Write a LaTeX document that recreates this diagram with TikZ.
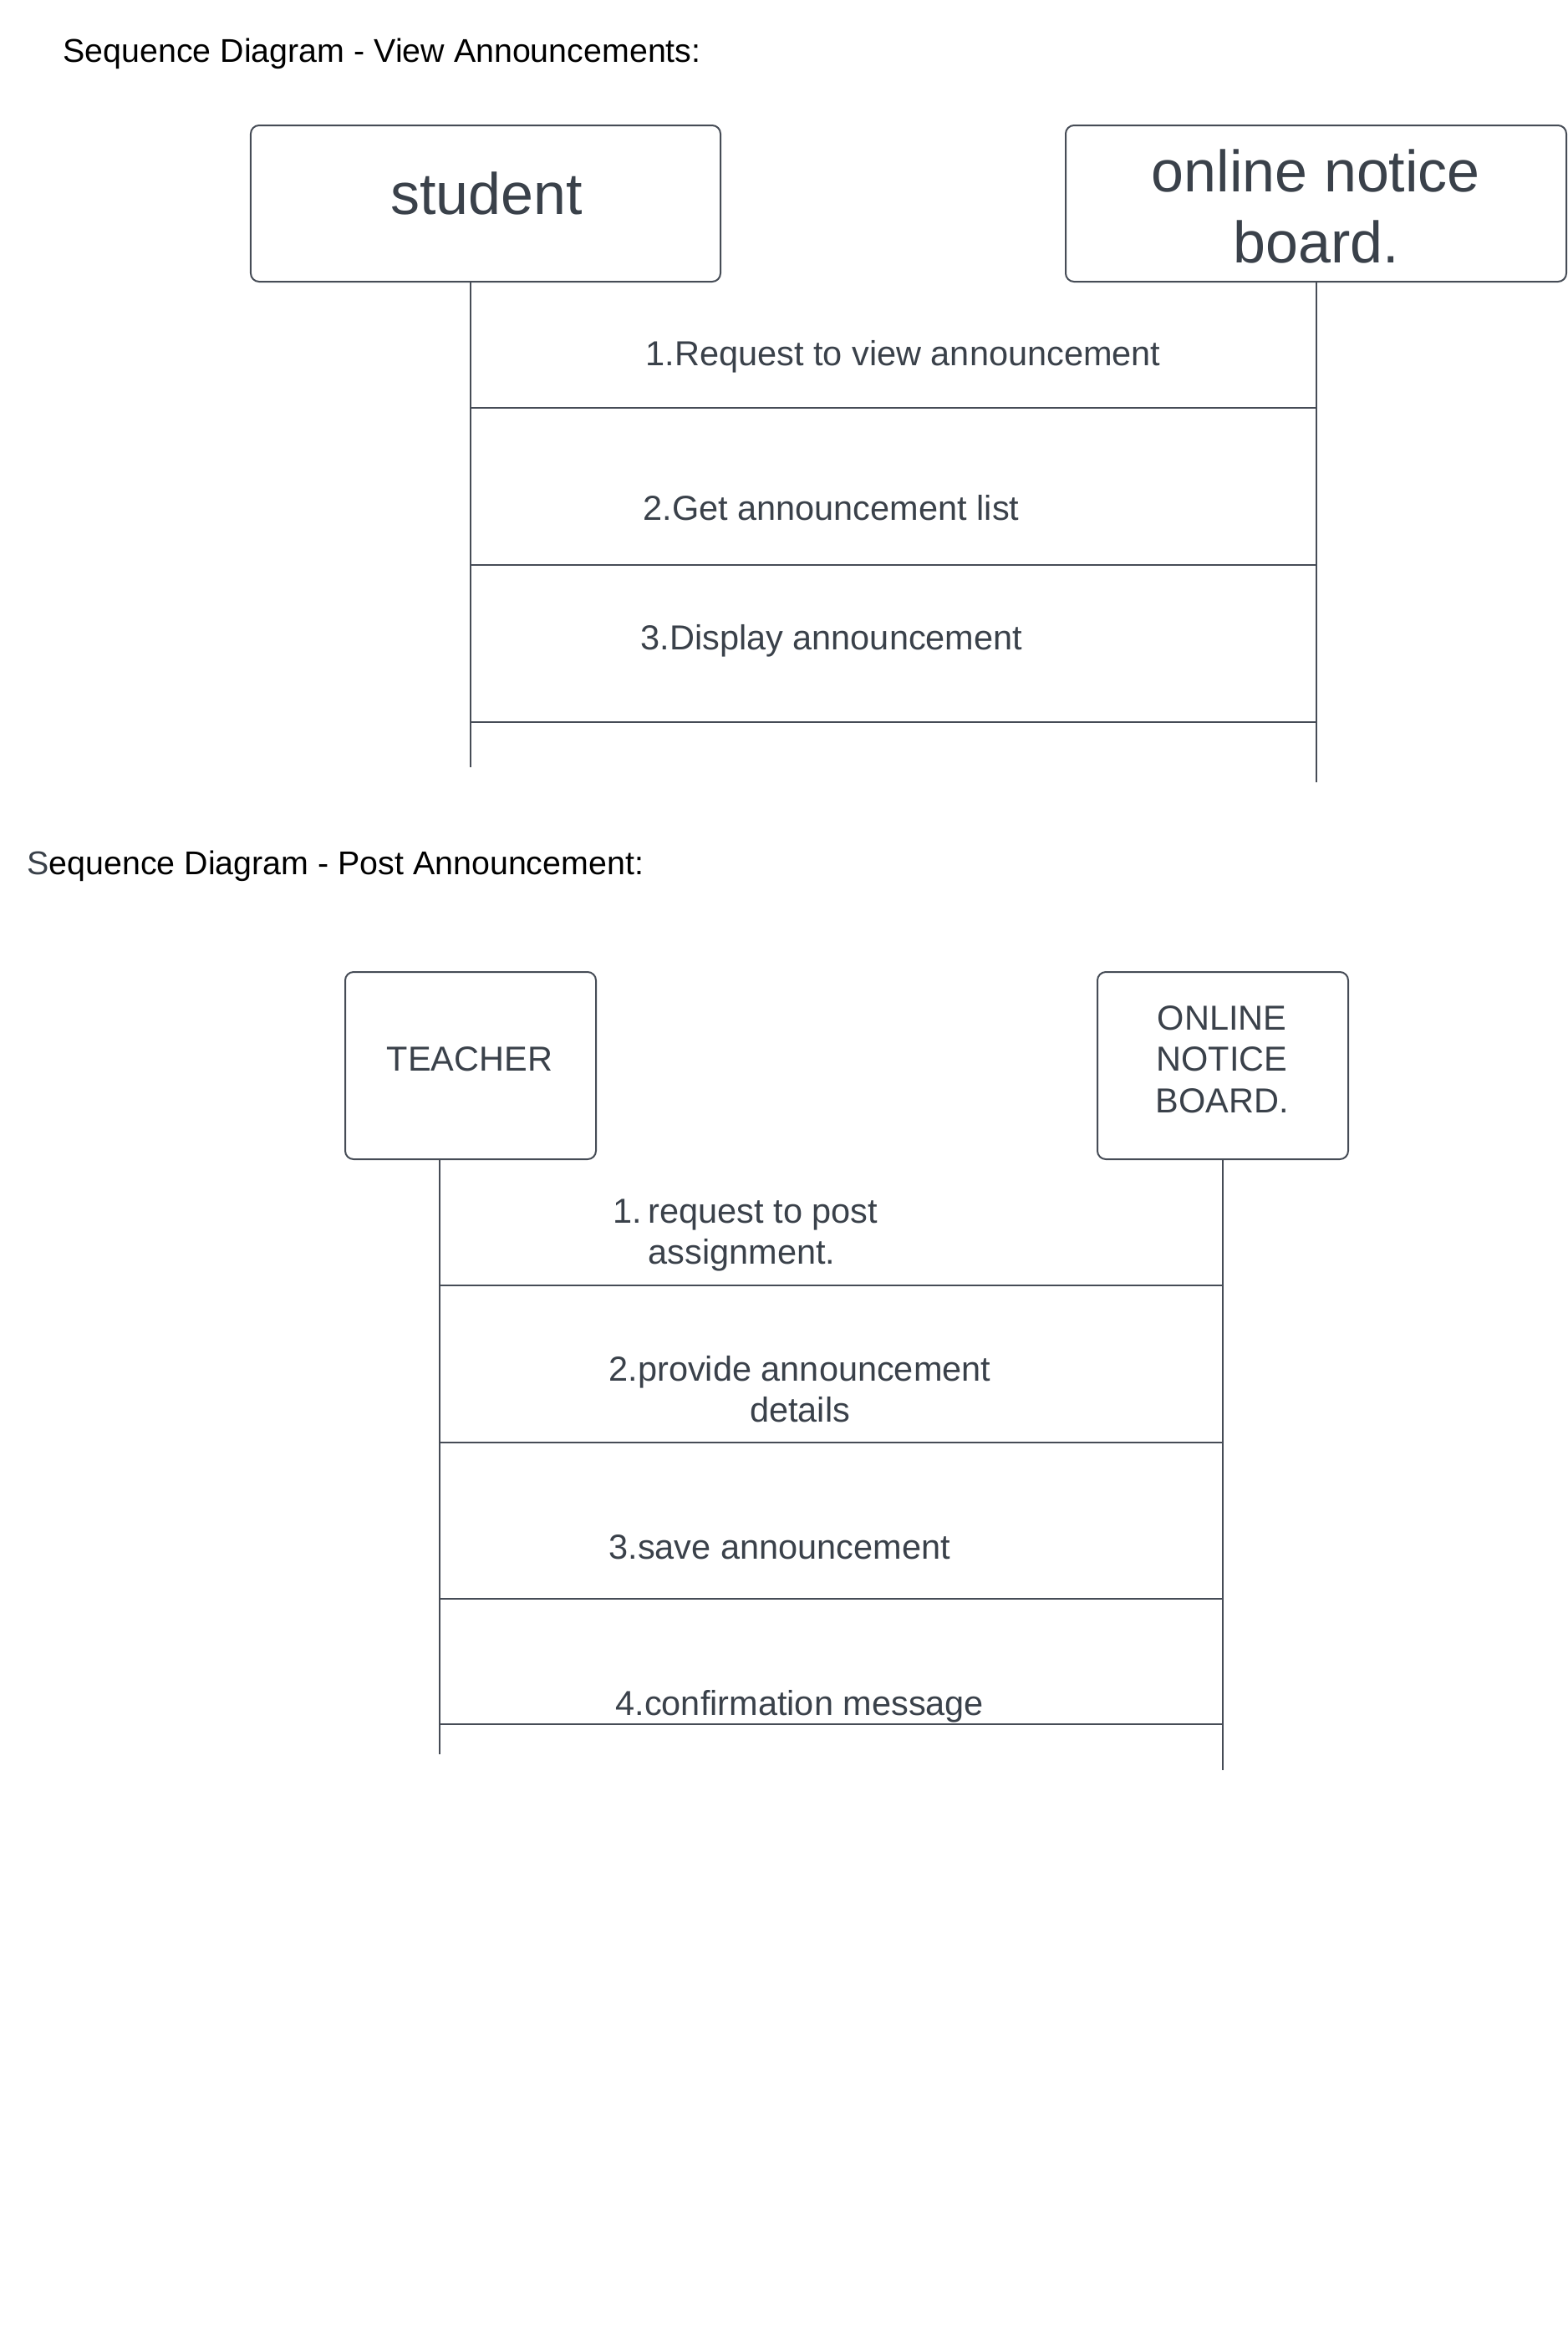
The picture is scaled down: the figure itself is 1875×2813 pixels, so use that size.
\documentclass[tikz,border=0pt]{standalone}
\usepackage{fontspec}
\setmainfont{Liberation Sans}
\definecolor{ink}{RGB}{58,65,74}
\definecolor{edge}{RGB}{70,76,86}
\begin{document}
\begin{tikzpicture}[x=0.4pt,y=-0.4pt,
  box/.style={draw=edge,line width=0.8pt,rounded corners=4pt,inner sep=0pt,fill=white},
  life/.style={draw=edge,line width=0.7pt},
  msg/.style={draw=edge,line width=0.8pt},
  title/.style={anchor=base west,inner sep=0pt,font=\fontsize{15.75pt}{19pt}\selectfont,text=black},
  big/.style={anchor=base,inner sep=0pt,text=ink,font=\fontsize{28pt}{34pt}\selectfont},
  lbl/.style={anchor=base west,inner sep=0pt,text=ink,font=\fontsize{16.6pt}{19.8pt}\selectfont},
  lblc/.style={anchor=base,inner sep=0pt,text=ink,font=\fontsize{16.6pt}{19.8pt}\selectfont}]
\useasboundingbox (0,0) rectangle (1875,2813);

% ---------- View Announcements ----------
\node[title] (t1) at (75,74) {Sequence Diagram - View Announcements:};

\node[box,minimum width=224.8pt,minimum height=74.8pt] (student) at (581,243.5) {};
\node[big] (studentT) at (582,256) {student};
\node[box,minimum width=239.6pt,minimum height=74.8pt] (board) at (1574.5,243.5) {};
\node[big] (boardT) at (1574.5,229) {\begin{tabular}[t]{@{}c@{}}online notice\\board.\end{tabular}};

\coordinate (sEnd) at (563,918);
\coordinate (bEnd) at (1575,936);
\draw[life] (student.south -| sEnd) -- (sEnd);
\draw[life] (board.south -| bEnd) -- (bEnd);

\coordinate (m1) at (0,488);
\coordinate (m2) at (0,676);
\coordinate (m3) at (0,864);
\draw[msg] (sEnd |- m1) -- (bEnd |- m1);
\draw[msg] (sEnd |- m2) -- (bEnd |- m2);
\draw[msg] (sEnd |- m3) -- (bEnd |- m3);

\node[lbl] (l1) at (772,437) {1.Request to view announcement};
\node[lbl] (l2) at (769,622) {2.Get announcement list};
\node[lbl] (l3) at (766,777) {3.Display announcement};

% ---------- Post Announcement ----------
\node[title] (t2) at (32,1046) {\textcolor{ink}{S}equence Diagram - Post Announcement:};

\node[box,minimum width=120pt,minimum height=89.6pt] (teacher) at (563,1275) {};
\node[lblc] (teacherT) at (562,1281) {TEACHER};
\node[box,minimum width=120pt,minimum height=89.6pt] (board2) at (1463,1275) {};
\node[lblc] (board2T) at (1462,1232) {\begin{tabular}[t]{@{}c@{}}ONLINE\\NOTICE\\BOARD.\end{tabular}};

\coordinate (tEnd) at (526,2099);
\coordinate (b2End) at (1463,2118);
\draw[life] (teacher.south -| tEnd) -- (tEnd);
\draw[life] (board2.south -| b2End) -- (b2End);

\coordinate (n1) at (0,1538);
\coordinate (n2) at (0,1726);
\coordinate (n3) at (0,1913);
\coordinate (n4) at (0,2063);
\draw[msg] (tEnd |- n1) -- (b2End |- n1);
\draw[msg] (tEnd |- n2) -- (b2End |- n2);
\draw[msg] (tEnd |- n3) -- (b2End |- n3);
\draw[msg] (tEnd |- n4) -- (b2End |- n4);

\node[lbl] (k1) at (733,1463) {\begin{tabular}[t]{@{}l@{}}1.\hspace{3pt}request to post\\\hphantom{1.\hspace{3pt}}assignment.\end{tabular}};
\node[lblc] (k2) at (957,1652) {\begin{tabular}[t]{@{}c@{}}2.provide announcement\\details\end{tabular}};
\node[lbl] (k3) at (728,1865) {3.save announcement};
\node[lbl] (k4) at (736,2052) {4.confirmation message};
\end{tikzpicture}
\end{document}
